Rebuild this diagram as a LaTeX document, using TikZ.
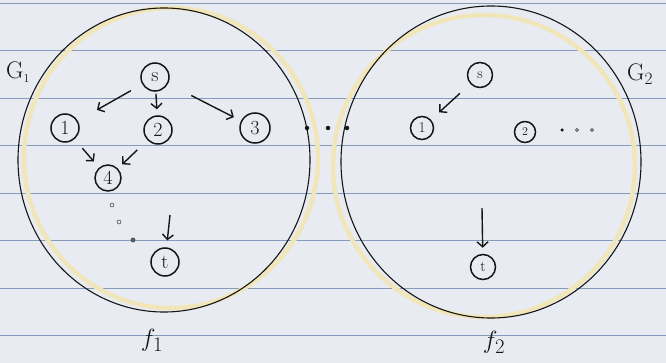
\documentclass[tikz,border=0pt]{standalone}
\usetikzlibrary{arrows.meta}

\definecolor{paper}{RGB}{232,236,242}
\definecolor{rule}{RGB}{132,155,188}
\definecolor{hilite}{RGB}{240,230,185}
\definecolor{ink}{RGB}{22,22,22}

\begin{document}
\begin{tikzpicture}[
  x=1pt, y=-1pt,
  font=\fontsize{20}{22}\selectfont,
  vtx/.style={draw=ink, line width=1.5pt, circle, inner sep=0pt,
              minimum size=28pt, text=ink},
  vtxs/.style={vtx, minimum size=23pt, font=\fontsize{15}{17}\selectfont},
  arr/.style={draw=ink, line width=1.4pt,
              -{Straight Barb[length=5pt,width=11pt]}},
  region/.style={draw=ink, line width=1.1pt},
  glow/.style={draw=hilite, line width=4.5pt},
  ruling/.style={draw=rule, line width=0.8pt},
  dot/.style={circle, fill=ink, inner sep=0pt, minimum size=4.5pt},
  odot/.style={circle, draw=ink, inner sep=0pt, minimum size=3pt},
  glbl/.style={text=ink, inner sep=0pt, font=\fontsize{24}{26}\selectfont},
  flbl/.style={text=ink, inner sep=0pt, font=\fontsize{32}{34}\selectfont},
]

% ---------- paper ----------
\fill[paper] (0,0) rectangle (666,363);
\useasboundingbox (0,0) rectangle (666,363);
\foreach \k in {0,...,7}
  \draw[ruling] (0,3+47.5*\k) -- (666,3+47.5*\k);

% ---------- the two graphs ----------
\draw[glow] (171,158) ellipse [x radius=147, y radius=150];
\draw[glow] (484,166) ellipse [x radius=151, y radius=151];
\draw[region] (164,160) ellipse [x radius=146, y radius=152];
\draw[region] (491,162) ellipse [x radius=150, y radius=156];

\node[glbl, anchor=west] (g1) at (6,72) {G$_{\scriptscriptstyle 1}$};
\node[glbl, anchor=west] (g2) at (627,74) {G$_2$};
\node[flbl] (f1) at (152,340) {$f_1$};
\node[flbl] (f2) at (494,342) {$f_2$};

% ---------- first graph ----------
\node[vtx] (sA) at (155,77) {s};
\node[vtx] (a1) at (65,128) {1};
\node[vtx] (a2) at (158,130) {2};
\node[vtx, minimum size=30pt] (a3) at (255,128) {3};
\node[vtx, minimum size=26pt] (a4) at (108,178) {4};
\node[vtx] (tA) at (165,262) {t};
\coordinate (inA) at (170,215);

\draw[arr, shorten <=13pt, shorten >=22pt] (sA) -- (a1);
\draw[arr, shorten <=2pt, shorten >=6pt] (sA) -- (a2);
\draw[arr, shorten <=26pt, shorten >=8pt] (sA) -- (a3);
\draw[arr, shorten <=12pt, shorten >=8pt] (a1) -- (a4);
\draw[arr, shorten <=14pt, shorten >=6pt] (a2) -- (a4);
\draw[arr, shorten >=7pt] (inA) -- (tA);

\node[odot, minimum size=4pt] (d1) at (112,205) {};
\node[odot, minimum size=4pt] (d2) at (119,222) {};
\node[dot, minimum size=5pt, fill=ink!70] (d3) at (133,240) {};

% ---------- between the graphs ----------
\node[dot] (m1) at (307,128) {};
\node[dot] (m2) at (328,128) {};
\node[dot] (m3) at (347,128) {};

% ---------- second graph ----------
\node[vtxs, minimum size=25pt] (sB) at (480,75) {s};
\node[vtxs] (b1) at (422,128) {1};
\node[vtxs, minimum size=21pt, font=\fontsize{12}{14}\selectfont] (b2) at (525,132) {2};
\node[vtxs, minimum size=25pt] (tB) at (483,267) {t};
\coordinate (inB) at (482,208);

\draw[arr, shorten <=14pt, shorten >=11pt] (sB) -- (b1);
\draw[arr, shorten >=6pt] (inB) -- (tB);

\node[dot, minimum size=3.5pt] (e1) at (562,130) {};
\node[odot] (e2) at (577,130) {};
\node[odot] (e3) at (592,130) {};

\end{tikzpicture}
\end{document}
